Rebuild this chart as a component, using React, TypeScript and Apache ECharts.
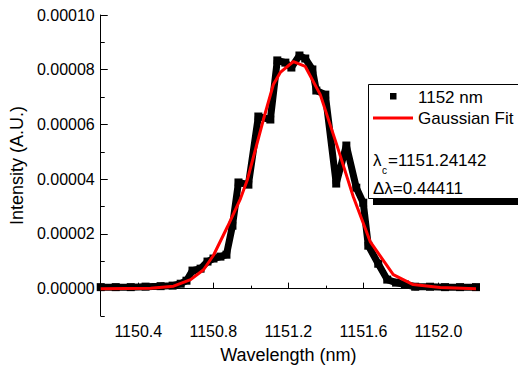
import React, { useEffect, useRef } from 'react';
import * as echarts from 'echarts';

// Axis ticks
const xTickLabels = [1150.4, 1150.8, 1151.2, 1151.6, 1152.0];
const xMinorTicks = [1150.2, 1150.6, 1151.0, 1151.4, 1151.8, 1152.2];
const yTickLabels = [0, 0.00002, 0.00004, 0.00006, 0.00008, 0.0001];
const yMinorTicks = [-0.00001, 0.00001, 0.00003, 0.00005, 0.00007, 0.00009];

// Measured data (1152 nm)
const dataWavelength = [
  1150.200, 1150.280, 1150.360, 1150.439, 1150.519, 1150.583, 1150.626, 1150.657,
  1150.689, 1150.732, 1150.769, 1150.801, 1150.838, 1150.870, 1150.902, 1150.934,
  1150.987, 1151.040, 1151.104, 1151.141, 1151.184, 1151.216, 1151.259, 1151.290,
  1151.328, 1151.349, 1151.397, 1151.455, 1151.509, 1151.562, 1151.599, 1151.626,
  1151.679, 1151.727, 1151.774, 1151.822, 1151.876, 1151.955, 1152.035, 1152.115,
  1152.200,
];
const dataIntensity = [
  0.055e-5, 0.055e-5, 0.055e-5, 0.073e-5, 0.091e-5, 0.11e-5, 0.18e-5, 0.29e-5,
  0.66e-5, 0.73e-5, 0.99e-5, 1.10e-5, 1.17e-5, 1.24e-5, 2.30e-5, 3.88e-5,
  3.80e-5, 6.29e-5, 6.18e-5, 8.34e-5, 8.26e-5, 8.08e-5, 8.52e-5, 8.41e-5,
  8.01e-5, 7.24e-5, 7.09e-5, 3.84e-5, 5.23e-5, 3.69e-5, 3.14e-5, 1.57e-5,
  0.91e-5, 0.33e-5, 0.22e-5, 0.15e-5, 0.07e-5, 0.07e-5, 0.055e-5, 0.055e-5,
  0.055e-5,
];

// Gaussian fit
const fitWavelength = [
  1150.200, 1150.466, 1150.588, 1150.679, 1150.748, 1150.801, 1150.876, 1150.945,
  1150.982, 1151.067, 1151.120, 1151.157, 1151.227, 1151.290, 1151.370, 1151.461,
  1151.546, 1151.636, 1151.759, 1151.865, 1152.009, 1152.200,
];
const fitIntensity = [
  0.0, 0.01e-5, 0.09e-5, 0.33e-5, 0.69e-5, 1.22e-5, 2.27e-5, 3.29e-5,
  3.99e-5, 6.18e-5, 7.46e-5, 7.90e-5, 8.30e-5, 8.12e-5, 7.09e-5, 5.19e-5,
  3.36e-5, 1.72e-5, 0.51e-5, 0.15e-5, 0.04e-5, 0.0,
];

const seriesNames = ['1152 nm', 'Gaussian Fit'];
const fitCenterText = '=1151.24142';
const fitWidthText = '\u0394\u03bb=0.44411';

const FONT = '"Liberation Sans", Arial, Helvetica, sans-serif';

export default function App() {
  const ref = useRef<HTMLDivElement>(null);

  useEffect(() => {
    if (!ref.current) return;
    const chart = echarts.init(ref.current, null, { renderer: 'svg' });

    const near = (v: number, list: number[], eps: number) =>
      list.some((t) => Math.abs(t - v) < eps);

    const baseX = {
      type: 'value' as const,
      min: 1150.2,
      max: 1152.2,
      interval: 0.2,
      position: 'bottom' as const,
      splitLine: { show: false },
    };
    const baseY = {
      type: 'value' as const,
      min: -0.00001,
      max: 0.0001,
      interval: 0.00001,
      position: 'left' as const,
      splitLine: { show: false },
    };

    chart.setOption({
      animation: false,
      backgroundColor: '#ffffff',
      grid: { left: 100, right: 42, top: 15, bottom: 59, containLabel: false },
      xAxis: [
        {
          ...baseX,
          name: 'Wavelength (nm)',
          nameLocation: 'middle',
          nameGap: 30,
          nameTextStyle: { color: '#000', fontSize: 18, fontFamily: FONT },
          axisLine: { show: true, lineStyle: { color: '#000', width: 1 } },
          axisTick: {
            show: true,
            inside: true,
            length: 6,
            customValues: xTickLabels,
            lineStyle: { color: '#000', width: 1 },
          },
          axisLabel: {
            show: true,
            margin: 7,
            color: '#000',
            fontSize: 16,
            fontFamily: FONT,
            customValues: xTickLabels,
            formatter: (v: number) => (near(v, xTickLabels, 1e-6) ? v.toFixed(1) : ''),
          },
        },
        {
          ...baseX,
          axisLine: { show: false },
          axisTick: {
            show: true,
            inside: true,
            length: 3,
            customValues: xMinorTicks,
            lineStyle: { color: '#000', width: 1 },
          },
          axisLabel: { show: false },
        },
      ],
      yAxis: [
        {
          ...baseY,
          name: 'Intensity (A.U.)',
          nameLocation: 'middle',
          nameGap: 72,
          nameTextStyle: { color: '#000', fontSize: 18, fontFamily: FONT },
          axisLine: { show: true, lineStyle: { color: '#000', width: 1 } },
          axisTick: {
            show: true,
            inside: true,
            length: 7,
            customValues: yTickLabels,
            lineStyle: { color: '#000', width: 1 },
          },
          axisLabel: {
            show: true,
            margin: 6,
            color: '#000',
            fontSize: 16,
            fontFamily: FONT,
            customValues: yTickLabels,
            formatter: (v: number) => (near(v, yTickLabels, 1e-9) ? v.toFixed(5) : ''),
          },
        },
        {
          ...baseY,
          axisLine: { show: false },
          axisTick: {
            show: true,
            inside: true,
            length: 4,
            customValues: yMinorTicks,
            lineStyle: { color: '#000', width: 1 },
          },
          axisLabel: { show: false },
        },
      ],
      series: [
        {
          name: seriesNames[0],
          type: 'line',
          xAxisIndex: 0,
          yAxisIndex: 0,
          data: dataWavelength.map((x, i) => [x, dataIntensity[i]]),
          symbol: 'rect',
          symbolSize: 8,
          showSymbol: true,
          itemStyle: { color: '#000' },
          lineStyle: { color: '#000', width: 7 },
          z: 2,
        },
        {
          name: seriesNames[1],
          type: 'line',
          xAxisIndex: 0,
          yAxisIndex: 0,
          data: fitWavelength.map((x, i) => [x, fitIntensity[i]]),
          symbol: 'none',
          itemStyle: { color: '#ff0000' },
          lineStyle: { color: '#ff0000', width: 3 },
          z: 3,
        },
      ],
      graphic: [
        {
          type: 'group',
          z: 100,
          children: [
            {
              type: 'rect',
              shape: { x: 373, y: 90, width: 170, height: 115 },
              style: { fill: '#000' },
            },
            {
              type: 'rect',
              shape: { x: 368.5, y: 84.5, width: 170, height: 114 },
              style: { fill: '#fff', stroke: '#000', lineWidth: 1 },
            },
            {
              type: 'rect',
              shape: { x: 390, y: 93, width: 6.5, height: 6.5 },
              style: { fill: '#000' },
            },
            {
              type: 'text',
              x: 418,
              y: 97.5,
              style: {
                text: seriesNames[0],
                fill: '#000',
                fontSize: 17,
                fontFamily: FONT,
                verticalAlign: 'middle',
                align: 'left',
              },
            },
            {
              type: 'line',
              shape: { x1: 373, y1: 118, x2: 413, y2: 118 },
              style: { stroke: '#ff0000', lineWidth: 3 },
            },
            {
              type: 'text',
              x: 418,
              y: 118,
              style: {
                text: seriesNames[1],
                fill: '#000',
                fontSize: 17,
                fontFamily: FONT,
                verticalAlign: 'middle',
                align: 'left',
              },
            },
            {
              type: 'text',
              x: 373,
              y: 160,
              style: {
                text: '\u03bb',
                fill: '#000',
                fontSize: 17,
                fontFamily: FONT,
                verticalAlign: 'middle',
                align: 'left',
              },
            },
            {
              type: 'text',
              x: 382,
              y: 170,
              style: {
                text: 'c',
                fill: '#000',
                fontSize: 10,
                fontFamily: FONT,
                verticalAlign: 'middle',
                align: 'left',
              },
            },
            {
              type: 'text',
              x: 388,
              y: 160,
              style: {
                text: fitCenterText,
                fill: '#000',
                fontSize: 17,
                fontFamily: FONT,
                verticalAlign: 'middle',
                align: 'left',
              },
            },
            {
              type: 'text',
              x: 373,
              y: 188.5,
              style: {
                text: fitWidthText,
                fill: '#000',
                fontSize: 17,
                fontFamily: FONT,
                verticalAlign: 'middle',
                align: 'left',
              },
            },
          ],
        },
      ],
    });

    return () => chart.dispose();
  }, []);

  return (
    <div
      ref={ref}
      style={{ position: 'fixed', left: 0, top: 0, width: 518, height: 375, background: '#fff' }}
    />
  );
}
